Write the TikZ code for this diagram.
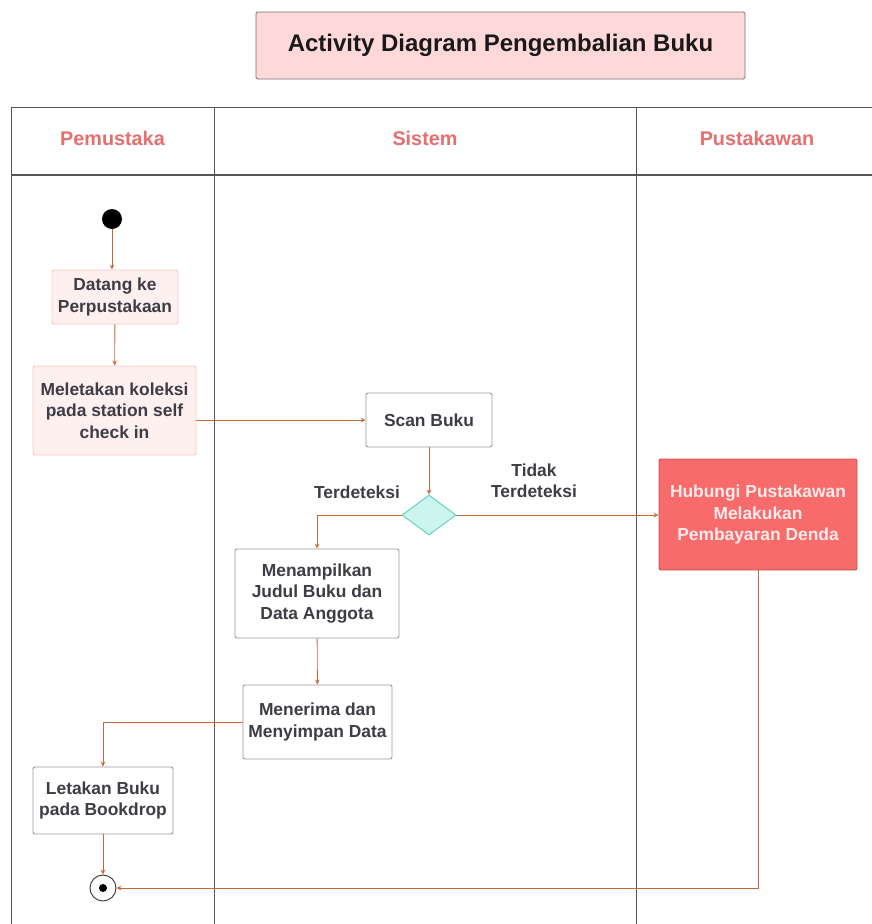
\documentclass[tikz,border=0pt]{standalone}
\usepackage{fontspec}
\setmainfont{Liberation Sans}
\usetikzlibrary{shapes.geometric,arrows.meta}
\definecolor{txt}{HTML}{3C3D45}
\definecolor{lanetxt}{HTML}{E66E6E}
\definecolor{flow}{HTML}{C46A3A}
\definecolor{titlefill}{HTML}{FFD9D9}
\definecolor{softfill}{HTML}{FFF0F0}
\definecolor{softline}{HTML}{F5C6C6}
\definecolor{redfill}{HTML}{F86B6B}
\definecolor{redline}{HTML}{C85050}
\definecolor{decfill}{HTML}{CCF5EE}
\definecolor{decline}{HTML}{5CCFBE}
\definecolor{lane}{HTML}{555555}
\tikzset{
  act/.style={draw=gray!80, line width=0.9pt, fill=white, rounded corners=2pt,
    align=center, text=txt, font=\fontsize{17.4}{21.5}\selectfont\bfseries, inner sep=2pt},
  softact/.style={act, draw=softline, fill=softfill},
  flowline/.style={draw=flow, line width=0.9pt, -{Stealth[length=5pt,width=4.5pt]}},
  lbl/.style={text=txt, align=center, font=\fontsize{17.4}{21.5}\selectfont\bfseries},
  lanehead/.style={text=lanetxt, inner sep=0pt, font=\fontsize{19.8}{22}\selectfont\bfseries}
}
\begin{document}
\begin{tikzpicture}[x=1pt,y=-1pt]
\useasboundingbox (0,0) rectangle (872,924);

% title
\node[draw=gray!90!black, line width=0.9pt, fill=titlefill, rounded corners=1.5pt,
  minimum width=489pt, minimum height=67pt, text=black!90,
  font=\fontsize{24}{28}\selectfont\bfseries] (title) at (500.5,45.5)
  {Activity Diagram Pengembalian Buku};

% swimlanes
\draw[lane, line width=0.9pt] (11,924) -- (11,107) -- (872,107);
\draw[lane, line width=1.3pt] (11,175) -- (872,175);
\draw[lane, line width=0.9pt] (214,107) -- (214,924);
\draw[lane, line width=0.9pt] (636,107) -- (636,924);
\node[lanehead] (h1) at (112.5,138) {Pemustaka};
\node[lanehead] (h2) at (425,138) {Sistem};
\node[lanehead] (h3) at (757,138) {Pustakawan};

% nodes
\node[circle, fill=black, minimum size=20pt, inner sep=0pt] (start) at (112,219) {};
\node[softact, minimum width=126pt, minimum height=54pt] (datang) at (115,297)
  {Datang ke\\Perpustakaan};
\node[softact, minimum width=163pt, minimum height=89pt] (letak) at (114.5,410.5)
  {Meletakan koleksi\\pada station self\\check in};
\node[act, minimum width=126pt, minimum height=54pt] (scan) at (429,420) {Scan Buku};
\node[diamond, draw=decline, fill=decfill, line width=0.9pt, inner sep=0pt,
  minimum width=54pt, minimum height=40pt, aspect=1.35] (dec) at (429,515) {};
\node[act, draw=redline, fill=redfill, text=white!92!red, minimum width=198pt,
  minimum height=111pt] (denda) at (758,514.5)
  {Hubungi Pustakawan\\Melakukan\\Pembayaran Denda};
\node[act, minimum width=164pt, minimum height=89pt] (tampil) at (317,593.5)
  {Menampilkan\\Judul Buku dan\\Data Anggota};
\node[act, minimum width=149pt, minimum height=74pt] (simpan) at (317.5,722)
  {Menerima dan\\Menyimpan Data};
\node[act, minimum width=140pt, minimum height=67pt] (drop) at (103,800.5)
  {Letakan Buku\\pada Bookdrop};
\node[circle, draw=black!80, line width=0.9pt, fill=white, minimum size=26pt,
  inner sep=0pt] (end) at (103,888) {};
\fill[black] (end.center) circle (4pt);

% guard labels
\node[lbl] (g1) at (357,492) {Terdeteksi};
\node[lbl] (g2) at (534,481) {Tidak\\Terdeteksi};

% flows
\draw[flowline] (start) -- (start |- datang.north);
\draw[flowline] (datang) -- (letak);
\draw[flowline] (scan.west -| letak.east) -- (scan.west);
\draw[flowline] (scan) -- (dec);
\draw[flowline] (dec.west) -| (tampil.north);
\draw[flowline] (dec.east) -- (denda.west |- dec.east);
\draw[flowline] (tampil) -- (simpan);
\draw[flowline] (simpan.west) -| (drop.north);
\draw[flowline] (drop) -- (end);
\draw[flowline] (denda.south) |- (end.east);
\end{tikzpicture}
\end{document}
